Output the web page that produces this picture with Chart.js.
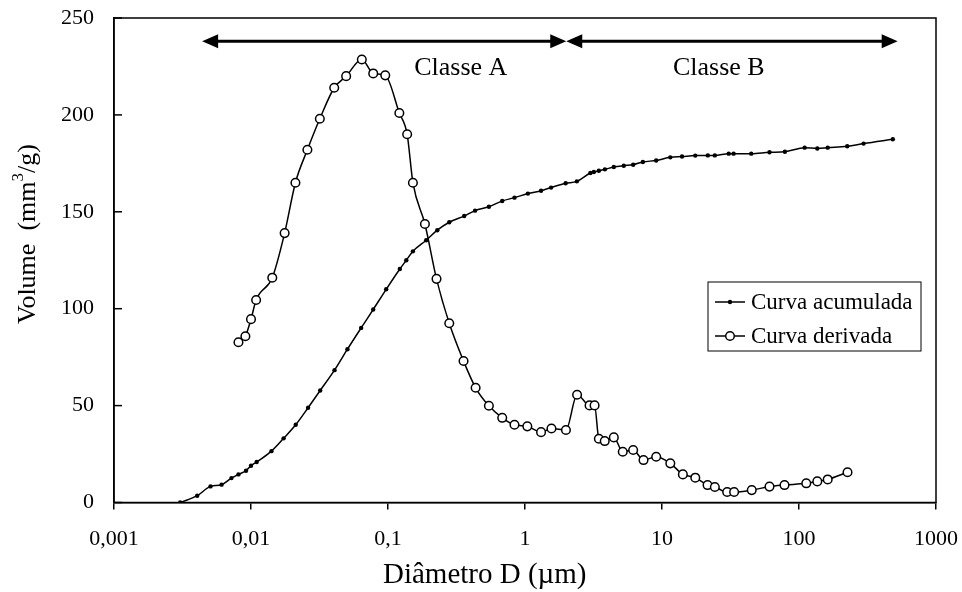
<!DOCTYPE html>
<html>
<head>
<meta charset="utf-8">
<script src="https://cdn.jsdelivr.net/npm/chart.js@4.4.0/dist/chart.umd.min.js"></script>
<style>
  html, body { margin: 0; padding: 0; background: #fff; }
</style>
</head>
<body>
<canvas id="poreChart" width="962" height="592"></canvas>
<script>
// Curva acumulada (diameter in um, volume in mm3/g)
var diamAcum = [0.00304, 0.00405, 0.00506, 0.0061, 0.0072, 0.0081, 0.0092, 0.01, 0.011, 0.0141,
  0.0173, 0.0212, 0.0261, 0.032, 0.0407, 0.0506, 0.0637, 0.078, 0.097, 0.122,
  0.136, 0.152, 0.19, 0.229, 0.28, 0.36, 0.432, 0.545, 0.682, 0.838,
  1.05, 1.31, 1.55, 1.98, 2.39, 3.0, 3.18, 3.46, 3.83, 4.45,
  5.26, 6.16, 7.25, 9.07, 11.5, 14.0, 17.5, 21.6, 24.3, 30.7,
  33.3, 44.8, 60.9, 78.9, 110, 136, 162, 225, 296, 484];
var volAcum = [0, 3.5, 8.3, 9.2, 12.6, 14.5, 16.4, 19, 20.9, 26.5,
  33.1, 40.1, 48.9, 57.8, 68.3, 79.1, 90.1, 99.6, 110, 120.5,
  125, 129.6, 135.3, 140.5, 144.6, 147.8, 150.6, 152.6, 155.6, 157.3,
  159.4, 160.9, 162.5, 164.7, 165.7, 170, 170.5, 171.2, 171.9, 173.1,
  173.8, 174.3, 175.7, 176.5, 178.1, 178.5, 179, 179.1, 179.1, 180,
  180, 180, 180.7, 181, 183.1, 182.7, 183.1, 183.8, 185.2, 187.4];

// Curva derivada
var diamDeriv = [0.0081, 0.0091, 0.01, 0.0109, 0.0143, 0.0176, 0.0211, 0.0258, 0.0318, 0.0405,
  0.0495, 0.0644, 0.078, 0.0955, 0.121, 0.138, 0.152, 0.186, 0.226, 0.28,
  0.356, 0.436, 0.545, 0.682, 0.838, 1.04, 1.31, 1.56, 1.99, 2.40,
  2.96, 3.22, 3.46, 3.82, 4.45, 5.17, 6.16, 7.33, 9.07, 11.5,
  14.2, 17.5, 21.5, 24.3, 29.9, 33.6, 45.2, 60.9, 78.4, 113,
  136, 162, 226];
var volDeriv = [82.7, 85.8, 94.6, 104.5, 116, 139, 165, 182, 198, 214,
  220, 228.6, 221.4, 220.4, 201, 190, 165, 143.7, 115.4, 92.5,
  73, 59.2, 49.9, 43.7, 40.1, 39.3, 36.3, 38.2, 37.4, 55.6,
  50.1, 50.1, 32.9, 31.7, 33.6, 26.2, 27.1, 21.9, 23.6, 20.2,
  14.5, 12.8, 9.0, 8.0, 5.4, 5.4, 6.4, 8.2, 9.0, 9.9,
  10.9, 11.9, 15.6];

// axes
var xTicks = [0.001, 0.01, 0.1, 1, 10, 100, 1000];
var xTickLabels = ['0,001', '0,01', '0,1', '1', '10', '100', '1000'];
var yTicks = [0, 50, 100, 150, 200, 250];

// pore classes (arrows on top)
var classNames = ['Classe A', 'Classe B'];
var classFrom = [0.0044, 2];
var classTo = [2, 525];
var classLevel = 238;
var classLabelX = [0.34, 26];
var classLabelY = 224;

var serif = "'Liberation Serif', 'Times New Roman', serif";

function toPoints(xs, ys) {
  return xs.map(function(x, i) { return { x: x, y: ys[i] }; });
}

function noPadding(scale) {
  scale.paddingTop = 0;
  scale.paddingBottom = 0;
  scale.paddingLeft = 0;
  scale.paddingRight = 0;
}

function arrowHead(ctx, tipX, y, dir) {
  ctx.beginPath();
  ctx.moveTo(tipX, y);
  ctx.lineTo(tipX - dir * 16, y - 7);
  ctx.lineTo(tipX - dir * 16, y + 7);
  ctx.closePath();
  ctx.fill();
}

var decorPlugin = {
  id: 'decor',
  afterDraw: function(chart) {
    var ctx = chart.ctx;
    var area = chart.chartArea;
    var xs = chart.scales.x, ys = chart.scales.y;
    ctx.save();

    // frame
    ctx.strokeStyle = '#000';
    ctx.lineWidth = 1.5;
    ctx.strokeRect(area.left, area.top, area.right - area.left, area.bottom - area.top);

    // y ticks pointing inside
    yTicks.forEach(function(v) {
      var py = ys.getPixelForValue(v);
      ctx.beginPath();
      ctx.moveTo(area.left, py);
      ctx.lineTo(area.left + 8, py);
      ctx.stroke();
    });

    // class arrows
    ctx.fillStyle = '#000';
    ctx.lineWidth = 3;
    var ay = ys.getPixelForValue(classLevel);
    classNames.forEach(function(name, i) {
      var x1 = xs.getPixelForValue(classFrom[i]);
      var x2 = xs.getPixelForValue(classTo[i]);
      ctx.beginPath();
      ctx.moveTo(x1 + 10, ay);
      ctx.lineTo(x2 - 10, ay);
      ctx.stroke();
      arrowHead(ctx, x1, ay, -1);
      arrowHead(ctx, x2, ay, 1);

      ctx.font = '26px ' + serif;
      ctx.textAlign = 'center';
      ctx.textBaseline = 'middle';
      ctx.fillText(name, xs.getPixelForValue(classLabelX[i]), ys.getPixelForValue(classLabelY));
    });

    // legend box
    var bx = area.right - 228, by = area.top + 264, bw = 213, bh = 69;
    ctx.fillStyle = '#fff';
    ctx.fillRect(bx, by, bw, bh);
    ctx.lineWidth = 1;
    ctx.strokeRect(bx, by, bw, bh);
    chart.data.datasets.forEach(function(ds, i) {
      var ly = by + 20 + i * 34;
      ctx.strokeStyle = '#000';
      ctx.lineWidth = 1.5;
      ctx.beginPath();
      ctx.moveTo(bx + 7, ly);
      ctx.lineTo(bx + 37, ly);
      ctx.stroke();
      ctx.beginPath();
      ctx.arc(bx + 22, ly, ds.pointRadius, 0, Math.PI * 2);
      ctx.fillStyle = ds.pointBackgroundColor;
      ctx.fill();
      if (ds.pointBorderWidth > 0) ctx.stroke();
      ctx.fillStyle = '#000';
      ctx.font = '23px ' + serif;
      ctx.textAlign = 'left';
      ctx.textBaseline = 'middle';
      ctx.fillText(ds.label, bx + 43, ly + 1);
    });

    // x axis title
    ctx.fillStyle = '#000';
    ctx.font = '29px ' + serif;
    ctx.textAlign = 'center';
    ctx.textBaseline = 'middle';
    ctx.fillText('Di\u00e2metro D (\u00b5m)', area.left + (area.right - area.left) * 0.451, 575);

    // y axis title with superscript
    var partA = 'Volume  (mm', partB = '3', partC = '/g)';
    var big = '26px ' + serif, small = '17px ' + serif;
    ctx.font = big;
    var wA = ctx.measureText(partA).width, wC = ctx.measureText(partC).width;
    ctx.font = small;
    var wB = ctx.measureText(partB).width;
    var total = wA + wB + wC;
    ctx.translate(28, area.top + (area.bottom - area.top) * 0.446);
    ctx.rotate(-Math.PI / 2);
    ctx.textAlign = 'left';
    ctx.textBaseline = 'middle';
    var sx = -total / 2;
    ctx.font = big;
    ctx.fillText(partA, sx, 0);
    ctx.font = small;
    ctx.fillText(partB, sx + wA, -9);
    ctx.font = big;
    ctx.fillText(partC, sx + wA + wB, 0);

    ctx.restore();
  }
};

var chart = new Chart(document.getElementById('poreChart').getContext('2d'), {
  type: 'line',
  data: {
    datasets: [{
      label: 'Curva acumulada',
      data: toPoints(diamAcum, volAcum),
      borderColor: '#000',
      borderWidth: 1.5,
      pointRadius: 2.2,
      pointBackgroundColor: '#000',
      pointBorderColor: '#000',
      pointBorderWidth: 0,
      cubicInterpolationMode: 'monotone',
      fill: false
    }, {
      label: 'Curva derivada',
      data: toPoints(diamDeriv, volDeriv),
      borderColor: '#000',
      borderWidth: 1.5,
      pointRadius: 4.3,
      pointBackgroundColor: '#fff',
      pointBorderColor: '#000',
      pointBorderWidth: 1.5,
      cubicInterpolationMode: 'monotone',
      fill: false
    }]
  },
  options: {
    responsive: false,
    animation: false,
    events: [],
    layout: { padding: { left: 0, right: 26, top: 18, bottom: 0 } },
    plugins: { legend: { display: false }, tooltip: { enabled: false } },
    scales: {
      x: {
        type: 'logarithmic',
        min: 0.001,
        max: 1000,
        afterBuildTicks: function(scale) {
          scale.ticks = xTicks.map(function(v) { return { value: v }; });
        },
        afterFit: function(scale) { scale.height = 89.5; noPadding(scale); },
        ticks: {
          color: '#000',
          font: { family: serif, size: 22 },
          padding: 17,
          maxRotation: 0,
          autoSkip: false,
          callback: function(value, index) { return xTickLabels[index]; }
        },
        grid: { drawOnChartArea: false, drawTicks: true, tickLength: 7, color: '#000', lineWidth: 1.5 },
        border: { display: true, color: '#000', width: 1.5 }
      },
      y: {
        type: 'linear',
        min: 0,
        max: 250,
        afterBuildTicks: function(scale) {
          scale.ticks = yTicks.map(function(v) { return { value: v }; });
        },
        afterFit: function(scale) { scale.width = 114; noPadding(scale); },
        ticks: {
          color: '#000',
          font: { family: serif, size: 22 },
          padding: 20
        },
        grid: { drawOnChartArea: false, drawTicks: false },
        border: { display: true, color: '#000', width: 1.5 }
      }
    }
  },
  plugins: [decorPlugin]
});
</script>
</body>
</html>
